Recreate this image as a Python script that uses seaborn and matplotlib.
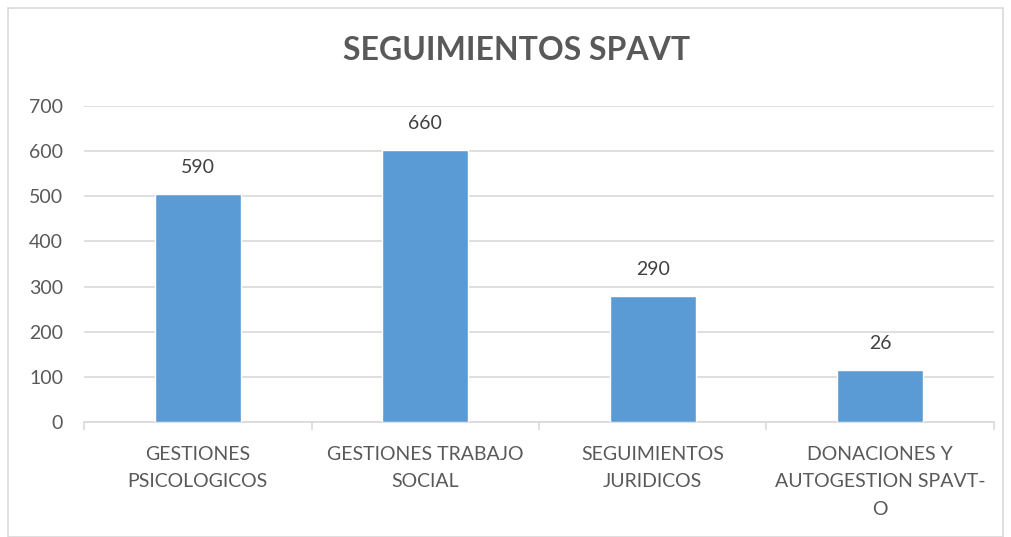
import matplotlib
matplotlib.use("Agg")
import matplotlib.pyplot as plt
import seaborn as sns
import pandas as pd
from matplotlib.patches import Rectangle

categories = ["GESTIONES\nPSICOLOGICOS", "GESTIONES TRABAJO\nSOCIAL", "SEGUIMIENTOS\nJURIDICOS", "DONACIONES Y\nAUTOGESTION SPAVT-\nO"]
bar_heights = [504, 602, 280, 115]
data_labels = ["590", "660", "290", "26"]
yticks = [0, 100, 200, 300, 400, 500, 600, 700]
title = "SEGUIMIENTOS SPAVT"

sns.set_theme(style="white")
plt.rcParams['font.family'] = ['Lato', 'DejaVu Sans']

fig = plt.figure(figsize=(10.11, 5.37), dpi=100)
fig.patch.set_facecolor("white")
fig.patches.append(Rectangle((8/1011, 0), 995/1011, 1 - 8/537, transform=fig.transFigure,
                             fill=False, edgecolor="#d9d9d9", linewidth=1.2))
ax = fig.add_axes([84/1011, 1 - 422/537, (994 - 84)/1011, (422 - 106)/537])

df = pd.DataFrame({"cat": categories, "val": bar_heights})
sns.barplot(data=df, x="cat", y="val", color="#5b9bd5", width=0.38, saturation=1, ax=ax, zorder=3)

ax.set_ylim(0, 700)
ax.set_xlim(-0.5, len(categories) - 0.5)
ax.set_yticks(yticks)
ax.set_yticklabels([str(t) for t in yticks], fontsize=14, color="#595959")
ax.yaxis.grid(True, color="#d9d9d9", linewidth=1.2, zorder=0)
ax.set_axisbelow(True)
ax.set_xlabel("")
ax.set_ylabel("")
ax.tick_params(axis="x", which="major", length=0, pad=17, labelsize=14, labelcolor="#595959")
ax.tick_params(axis="y", length=0, pad=15)
ax.set_xticks([i - 0.5 for i in range(len(categories) + 1)], minor=True)
ax.tick_params(axis="x", which="minor", length=6, color="#d9d9d9", width=1.2, bottom=True)
for lbl in ax.get_xticklabels():
    lbl.set_linespacing(1.75)

for s in ["top", "right", "left"]:
    ax.spines[s].set_visible(False)
ax.spines["bottom"].set_color("#d9d9d9")
ax.spines["bottom"].set_linewidth(1.2)

for i, (h, lab) in enumerate(zip(bar_heights, data_labels)):
    ax.annotate(lab, (i, h), xytext=(0, 13), textcoords="offset points",
                ha="center", va="bottom", fontsize=14, color="#404040")

fig.text(517/1011, 1 - 51/537, title, ha="center", va="center", fontsize=23,
         fontweight="bold", color="#595959")

fig.savefig("out.png", dpi=100)
